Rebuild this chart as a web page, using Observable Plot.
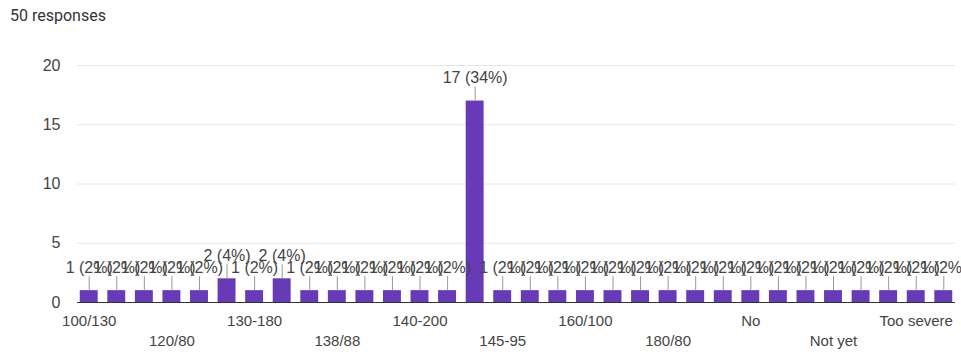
<!DOCTYPE html>
<html>
<head>
<meta charset="utf-8">
<script src="https://cdn.jsdelivr.net/npm/d3@7"></script>
<script src="https://cdn.jsdelivr.net/npm/@observablehq/plot@0.6"></script>
<style>
  body { margin: 0; background: #fff; font-family: "Liberation Sans", Arial, sans-serif; }
  #wrap { position: relative; width: 961px; height: 358px; }
  #title { position: absolute; left: 10px; top: 6px; font-size: 16px; color: #333; font-family: Roboto, "Liberation Sans", Arial, sans-serif; }
  svg { position: absolute; left: 0; top: 0; }
</style>
</head>
<body>
<div id="wrap"><div id="title">50 responses</div></div>
<script>
const categories = [
  "100/130", "110/70", "120/70", "120/80", "125/80", "130", "130-180", "130/80",
  "130/90", "138/88", "139/90", "140", "140-200", "140/100", "140/90", "145-95",
  "150/100", "150/90", "160/100", "160/90", "170/100", "180/80", "190/100", "200/100",
  "No", "No idea", "Normal", "Not yet", "Sometimes", "Too high", "Too severe", "Very high"
];
const counts = [
  1, 1, 1, 1, 1, 2, 1, 2,
  1, 1, 1, 1, 1, 1, 17, 1,
  1, 1, 1, 1, 1, 1, 1, 1,
  1, 1, 1, 1, 1, 1, 1, 1
];
const totalResponses = 50;
const yTicks = [0, 5, 10, 15, 20];

const data = categories.map((c, i) => ({
  cat: c,
  value: counts[i],
  label: `${counts[i]} (${Math.round(counts[i] / totalResponses * 100)}%)`,
  row: i % 6 === 0 ? 1 : 2,
  shown: i % 3 === 0
}));

const width = 961, height = 358, marginTop = 65, marginBottom = 56;
const pxPerUnit = (height - marginTop - marginBottom) / 20;
const purple = "#673ab7";

const chart = Plot.plot({
  width, height,
  marginTop, marginBottom, marginLeft: 77, marginRight: 6,
  style: { fontFamily: "'Liberation Sans', Arial, sans-serif", fontSize: "16px", color: "#444", background: "transparent" },
  x: { domain: categories, paddingInner: 0.35, paddingOuter: 0.1, round: false, axis: null },
  y: { domain: [0, 20], ticks: yTicks, tickSize: 0, tickPadding: 17, label: null, grid: false },
  marks: [
    Plot.ruleY(yTicks.filter(t => t > 0), { stroke: "#e6e6e6", strokeWidth: 1 }),
    Plot.barY(data, { x: "cat", y: "value", fill: purple }),
    Plot.ruleY([0], { stroke: "#333", strokeWidth: 1.2 }),
    Plot.ruleX(data, { x: "cat", y1: "value", y2: d => d.value + 14 / pxPerUnit, stroke: "#999", strokeWidth: 1 }),
    Plot.text(data, { x: "cat", y: "value", text: "label", dy: -23, fill: "#444", fontSize: 16 }),
    Plot.text(data.filter(d => d.shown && d.row === 1), { x: "cat", text: "cat", frameAnchor: "bottom", dy: 23, fill: "#444", fontSize: 15 }),
    Plot.text(data.filter(d => d.shown && d.row === 2), { x: "cat", text: "cat", frameAnchor: "bottom", dy: 43, fill: "#444", fontSize: 15 })
  ]
});
document.getElementById("wrap").appendChild(chart);
</script>
</body>
</html>
